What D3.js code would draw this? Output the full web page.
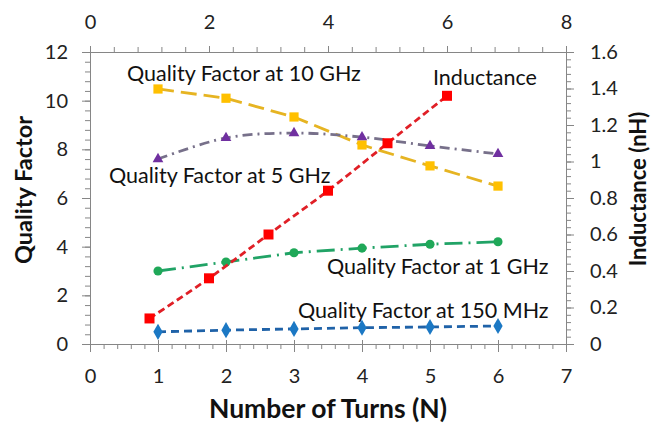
<!DOCTYPE html>
<html><head><meta charset="utf-8">
<script src="https://cdn.jsdelivr.net/npm/d3@7"></script>
<style>body{margin:0;background:#fff}svg{display:block}text{font-family:Lato,"Open Sans",sans-serif}</style>
</head><body><svg id="c" width="656" height="425"></svg>
<script>
const turns = [1, 2, 3, 4, 5, 6];
const q150MHz = [0.5, 0.57, 0.62, 0.67, 0.7, 0.74];
const q1GHz = [3.0, 3.37, 3.75, 3.94, 4.1, 4.2];
const q5GHz = [7.6, 8.47, 8.67, 8.5, 8.14, 7.81];
const q10GHz = [10.48, 10.1, 9.33, 8.18, 7.32, 6.49];
const indX = [1, 2, 3, 4, 5, 6];
const inductance = [0.14, 0.36, 0.6, 0.84, 1.1, 1.36];
const bottomTicks = [0, 1, 2, 3, 4, 5, 6, 7];
const topTicks = [0, 2, 4, 6, 8];
const leftTicks = [0, 2, 4, 6, 8, 10, 12];
const rightTicks = [0, 0.2, 0.4, 0.6, 0.8, 1, 1.2, 1.4, 1.6];

const svg = d3.select("#c");
const L = 90, R = 566, T = 52, B = 344;
const x = d3.scaleLinear().domain([0, 7]).range([L, R]);
const x2 = d3.scaleLinear().domain([0, 8]).range([L, R]);
const y = d3.scaleLinear().domain([0, 12]).range([B, T]);
const y2 = d3.scaleLinear().domain([0, 1.6]).range([B, T]);
const axisCol = "#868686", fs = 20, lfs = 21.5;

function styleAxis(g){ g.selectAll("path,line").attr("stroke", axisCol); g.selectAll("text").attr("font-size", fs).attr("fill", "#222").style("font-family","Lato"); }

svg.append("g").attr("transform",`translate(0,${B})`).call(d3.axisBottom(x).tickValues(d3.range(0,7.001,0.2)).tickSize(5).tickFormat("")).call(styleAxis);
svg.append("g").attr("transform",`translate(0,${B})`).call(d3.axisBottom(x).tickValues(bottomTicks).tickSizeInner(8).tickSizeOuter(0).tickPadding(17).tickFormat(d3.format("d"))).call(styleAxis).call(g=>g.selectAll(".tick line").attr("y1",-4));
svg.append("g").attr("transform",`translate(0,${T})`).call(d3.axisTop(x2).tickValues(d3.range(0,8.001,0.4)).tickSize(5).tickFormat("")).call(styleAxis);
svg.append("g").attr("transform",`translate(0,${T})`).call(d3.axisTop(x2).tickValues(topTicks).tickSizeInner(6).tickSizeOuter(0).tickPadding(17).tickFormat(d3.format("d"))).call(styleAxis);
svg.append("g").attr("transform",`translate(${L},0)`).call(d3.axisLeft(y).tickValues(d3.range(0,12.001,0.4)).tickSize(5).tickFormat("")).call(styleAxis);
svg.append("g").attr("transform",`translate(${L},0)`).call(d3.axisLeft(y).tickValues(leftTicks).tickSizeInner(8).tickSizeOuter(0).tickPadding(14).tickFormat(d3.format("d"))).call(styleAxis);
svg.append("g").attr("transform",`translate(${R},0)`).call(d3.axisRight(y2).tickValues(d3.range(0,1.6001,0.04)).tickSize(5).tickFormat("")).call(styleAxis);
svg.append("g").attr("transform",`translate(${R},0)`).call(d3.axisRight(y2).tickValues(rightTicks).tickSizeInner(8).tickSizeOuter(0).tickPadding(16).tickFormat(d=>d3.format("~g")(d))).call(styleAxis);

const series = [
  {xs: turns, ys: q10GHz, xsc: x, ysc: y, line: "#E6B422", dash: "16,7", mk: "#FFC000", sym: d3.symbolSquare, size: 85, curve: d3.curveLinear},
  {xs: turns, ys: q5GHz, xsc: x, ysc: y, line: "#77708a", dash: "10,5,2,5", mk: "#7030A0", sym: d3.symbolTriangle, size: 50, curve: d3.curveCatmullRom.alpha(0.5)},
  {xs: turns, ys: q1GHz, xsc: x, ysc: y, line: "#21A366", dash: "18,6,2,6", mk: "#1FA858", sym: d3.symbolCircle, size: 65, curve: d3.curveLinear},
  {xs: turns, ys: q150MHz, xsc: x, ysc: y, line: "#1F62A8", dash: "8,5", mk: "#1B78C4", sym: d3.symbolDiamond, size: 75, curve: d3.curveLinear},
  {xs: indX, ys: inductance, xsc: x2, ysc: y2, line: "#E01F26", dash: "7,4", mk: "#FF0000", sym: d3.symbolSquare, size: 100, curve: d3.curveCatmullRom.alpha(0.5)}
];
series.forEach(s=>{
  const pts = s.xs.map((v,i)=>[s.xsc(v), s.ysc(s.ys[i])]);
  svg.append("path").attr("d", d3.line().curve(s.curve)(pts)).attr("fill","none").attr("stroke", s.line).attr("stroke-width",2.8).attr("stroke-dasharray", s.dash);
  svg.selectAll(null).data(pts).join("path").attr("transform",d=>`translate(${d[0]},${d[1]})`).attr("d", d3.symbol().type(s.sym).size(s.size)).attr("fill", s.mk);
});

const labels = [
  ["Quality Factor at 10 GHz", 127, 73],
  ["Inductance", 433, 77],
  ["Quality Factor at 5 GHz", 109, 175],
  ["Quality Factor at 1 GHz", 327, 266],
  ["Quality Factor at 150 MHz", 298, 310]
];
labels.forEach(l=>svg.append("text").attr("x",l[1]).attr("y",l[2]).attr("dy","0.35em").attr("font-size",lfs).attr("fill","#111").text(l[0]));

svg.append("text").attr("x",328).attr("y",409).attr("dy","0.35em").attr("text-anchor","middle").attr("font-size",26.5).attr("font-weight","bold").attr("fill","#111").text("Number of Turns (N)");
svg.append("text").attr("transform","translate(24,190) rotate(-90)").attr("dy","0.35em").attr("text-anchor","middle").attr("font-size",23.5).attr("font-weight","bold").attr("fill","#111").text("Quality Factor");
svg.append("text").attr("transform","translate(638,189) rotate(-90)").attr("dy","0.35em").attr("text-anchor","middle").attr("font-size",22).attr("font-weight","bold").attr("fill","#111").text("Inductance (nH)");
</script></body></html>
